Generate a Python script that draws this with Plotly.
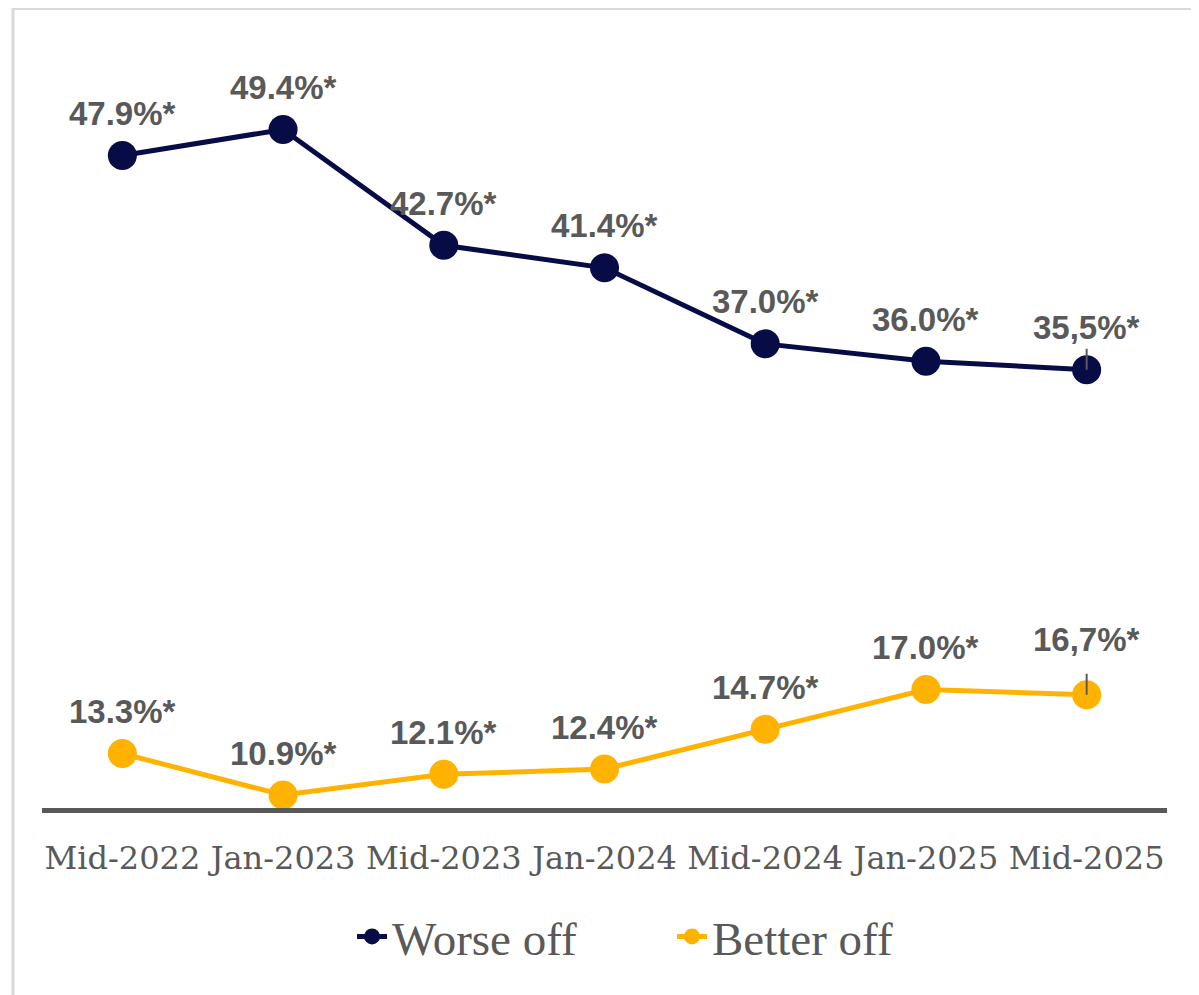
import plotly.graph_objects as go

categories = ["Mid-2022", "Jan-2023", "Mid-2023", "Jan-2024", "Mid-2024", "Jan-2025", "Mid-2025"]
worse_off = [47.9, 49.4, 42.7, 41.4, 37.0, 36.0, 35.5]
better_off = [13.3, 10.9, 12.1, 12.4, 14.7, 17.0, 16.7]
worse_labels = ["47.9%*", "49.4%*", "42.7%*", "41.4%*", "37.0%*", "36.0%*", "35,5%*"]
better_labels = ["13.3%*", "10.9%*", "12.1%*", "12.4%*", "14.7%*", "17.0%*", "16,7%*"]
leader_points = [("worse", "Mid-2025"), ("better", "Mid-2025")]

NAVY = "#080C46"
AMBER = "#FFB300"
GRAY = "#595959"

fig = go.Figure()
fig.add_trace(go.Scatter(x=categories, y=worse_off, name="Worse off", mode="lines+markers",
                         line=dict(color=NAVY, width=5), marker=dict(color=NAVY, size=29),
                         legend="legend"))
fig.add_trace(go.Scatter(x=categories, y=better_off, name="Better off", mode="lines+markers",
                         line=dict(color=AMBER, width=5), marker=dict(color=AMBER, size=29),
                         legend="legend2"))

label_font = dict(family="Liberation Sans, Arial, sans-serif", size=33, color=GRAY, weight="bold")
for series, vals, labels in [("worse", worse_off, worse_labels), ("better", better_off, better_labels)]:
    for c, v, t in zip(categories, vals, labels):
        shift = 42
        if (series, c) in leader_points and series == "better":
            shift = 55
        fig.add_annotation(x=c, y=v, text=t, showarrow=False, yshift=shift,
                           xanchor="center", yanchor="middle", font=label_font)

series_vals = {"worse": worse_off, "better": better_off}
for series, c in leader_points:
    i = categories.index(c)
    fig.add_shape(type="line", xref="x", yref="y", ysizemode="pixel",
                  yanchor=series_vals[series][i], x0=i, x1=i, y0=0, y1=21,
                  line=dict(color=GRAY, width=2))

# outer border
fig.add_shape(type="rect", xref="paper", yref="paper", x0=-0.0258, x1=1.0249, y0=-0.27, y1=1.0547,
              line=dict(color="#D9D9D9", width=3), fillcolor="rgba(0,0,0,0)", layer="below")

legend_font = dict(family="Liberation Serif, Times New Roman, serif", size=47, color=GRAY)
fig.update_layout(
    width=1199, height=995,
    margin=dict(l=34, r=40, t=42, b=195),
    plot_bgcolor="white", paper_bgcolor="white",
    showlegend=True,
    legend=dict(x=0.2756, xanchor="left", y=-0.170, yanchor="middle", font=legend_font,
                bgcolor="rgba(0,0,0,0)"),
    legend2=dict(x=0.56, xanchor="left", y=-0.170, yanchor="middle", font=legend_font,
                 bgcolor="rgba(0,0,0,0)"),
    xaxis=dict(type="category", range=[-0.5, 6.5], showgrid=False, zeroline=False,
               showline=True, linecolor=GRAY, linewidth=5,
               ticks="outside", ticklen=18, tickcolor="rgba(0,0,0,0)",
               tickfont=dict(family="DejaVu Serif, Georgia, serif", size=32, color=GRAY)),
    yaxis=dict(range=[10.15, 54.0], visible=False, showgrid=False, zeroline=False),
)

fig.write_html("out.html")
